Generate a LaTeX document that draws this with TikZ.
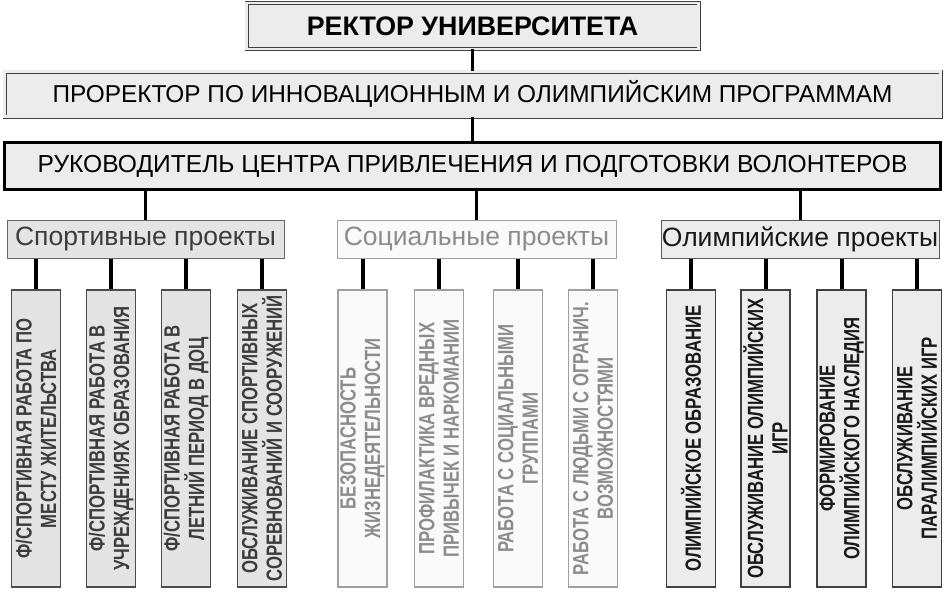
\documentclass[tikz,border=0pt]{standalone}
\usepackage{fontspec}
\setmainfont{Liberation Sans}
\newfontfamily\narrowfont[FakeStretch=0.76]{Liberation Sans}
\usepackage{tikz}
\usetikzlibrary{positioning,calc}
\usepackage{xcolor}
\definecolor{boxgray}{RGB}{236,236,236}
\definecolor{sportfill}{RGB}{228,228,228}
\definecolor{sporttext}{RGB}{60,60,60}
\definecolor{socfill}{RGB}{250,250,250}
\definecolor{socline}{RGB}{160,160,160}
\definecolor{soctext}{RGB}{140,140,140}
\definecolor{olyfill}{RGB}{236,236,236}
\definecolor{olytext}{RGB}{25,25,25}

\begin{document}
\begin{tikzpicture}[
    x=1pt, y=-1pt,
    dbl/.style={draw=black!75, line width=0.9pt, double=boxgray, double distance=2.2pt, fill=boxgray, inner sep=0pt},
    headbox/.style={draw=black, line width=3pt, fill=boxgray, inner sep=0pt, minimum width=936pt, minimum height=47pt},
    grp/.style={draw, line width=1pt, inner sep=0pt, minimum width=278pt, minimum height=38pt, font=\fontsize{26.5}{28}\selectfont},
    col/.style={draw, line width=1.6pt, rotate=90, inner sep=0pt, minimum width=297pt, minimum height=49pt, align=center, font=\narrowfont\bfseries\fontsize{22}{24.5}\selectfont},
    sportgrp/.style={grp, draw=black!60, fill=sportfill, text=sporttext},
    socgrp/.style={grp, draw=socline, fill=socfill, text=soctext},
    olygrp/.style={grp, draw=black!65, fill=olyfill, text=olytext},
    sportcol/.style={col, draw=black!70, fill=sportfill, text=sporttext},
    soccol/.style={col, draw=socline, fill=socfill, text=soctext},
    olycol/.style={col, draw=black!75, fill=olyfill, text=olytext},
    link/.style={line width=3pt, black},
    sublink/.style={line width=4pt, black}
]
    \useasboundingbox (0,0) rectangle (950,597);

    % top levels
    \node[dbl, minimum width=452pt, minimum height=46pt, font=\bfseries\fontsize{26.8}{28}\selectfont] (rector) at (472.5,26) {РЕКТОР УНИВЕРСИТЕТА};
    \node[dbl, minimum width=936pt, minimum height=45pt, font=\fontsize{24.4}{26}\selectfont] (prorector) at (472.5,94) {ПРОРЕКТОР ПО ИННОВАЦИОННЫМ И ОЛИМПИЙСКИМ ПРОГРАММАМ};
    \node[headbox, font=\fontsize{24.6}{26}\selectfont] (head) at (472.5,166) {РУКОВОДИТЕЛЬ ЦЕНТРА ПРИВЛЕЧЕНИЯ И ПОДГОТОВКИ ВОЛОНТЕРОВ};

    \draw[link] (rector) -- (prorector);
    \draw[link] (prorector) -- (head);

    % project groups
    \node[sportgrp, minimum width=277pt] (sport) at (145.5,239) {Спортивные проекты};
    \node[socgrp, minimum width=279pt] (social) at (476.5,239) {Социальные проекты};
    \node[olygrp, minimum width=278pt] (olymp) at (800,239) {Олимпийские проекты};

    \draw[link] (sport.north) -- (sport.north |- head.south);
    \draw[link] (social.north) -- (social.north |- head.south);
    \draw[link] (olymp.north) -- (olymp.north |- head.south);

    % sport columns
    \node[sportcol] (s1) at (36,438.5) {Ф/СПОРТИВНАЯ РАБОТА ПО\\МЕСТУ ЖИТЕЛЬСТВА};
    \node[sportcol] (s2) at (111,438.5) {Ф/СПОРТИВНАЯ РАБОТА В\\УЧРЕЖДЕНИЯХ ОБРАЗОВАНИЯ};
    \node[sportcol] (s3) at (186,438.5) {Ф/СПОРТИВНАЯ РАБОТА В\\ЛЕТНИЙ ПЕРИОД В ДОЦ};
    \node[sportcol] (s4) at (262,438.5) {ОБСЛУЖИВАНИЕ СПОРТИВНЫХ\\СОРЕВНОВАНИЙ И СООРУЖЕНИЙ};

    % social columns
    \node[soccol] (c1) at (362.5,438.5) {БЕЗОПАСНОСТЬ\\ЖИЗНЕДЕЯТЕЛЬНОСТИ};
    \node[soccol] (c2) at (439,438.5) {ПРОФИЛАКТИКА ВРЕДНЫХ\\ПРИВЫЧЕК И НАРКОМАНИИ};
    \node[soccol] (c3) at (518,438.5) {РАБОТА С СОЦИАЛЬНЫМИ\\ГРУППАМИ};
    \node[soccol] (c4) at (593,438.5) {РАБОТА С ЛЮДЬМИ С ОГРАНИЧ.\\ВОЗМОЖНОСТЯМИ};

    % olympic columns
    \node[olycol] (o1) at (691,438.5) {ОЛИМПИЙСКОЕ ОБРАЗОВАНИЕ};
    \node[olycol] (o2) at (765.5,438.5) {ОБСЛУЖИВАНИЕ ОЛИМПИЙСКИХ\\ИГР};
    \node[olycol] (o3) at (841.5,438.5) {ФОРМИРОВАНИЕ\\ОЛИМПИЙСКОГО НАСЛЕДИЯ};
    \node[olycol] (o4) at (917,438.5) {ОБСЛУЖИВАНИЕ\\ПАРАЛИМПИЙСКИХ ИГР};

    \draw[sublink] (s1.east) -- (s1.east |- sport.south);
    \draw[sublink] (s2.east) -- (s2.east |- sport.south);
    \draw[sublink] (s3.east) -- (s3.east |- sport.south);
    \draw[sublink] (s4.east) -- (s4.east |- sport.south);
    \draw[sublink] (c1.east) -- (c1.east |- social.south);
    \draw[sublink] (c2.east) -- (c2.east |- social.south);
    \draw[sublink] (c3.east) -- (c3.east |- social.south);
    \draw[sublink] (c4.east) -- (c4.east |- social.south);
    \draw[sublink] (o1.east) -- (o1.east |- olymp.south);
    \draw[sublink] (o2.east) -- (o2.east |- olymp.south);
    \draw[sublink] (o3.east) -- (o3.east |- olymp.south);
    \draw[sublink] (o4.east) -- (o4.east |- olymp.south);
\end{tikzpicture}
\end{document}
